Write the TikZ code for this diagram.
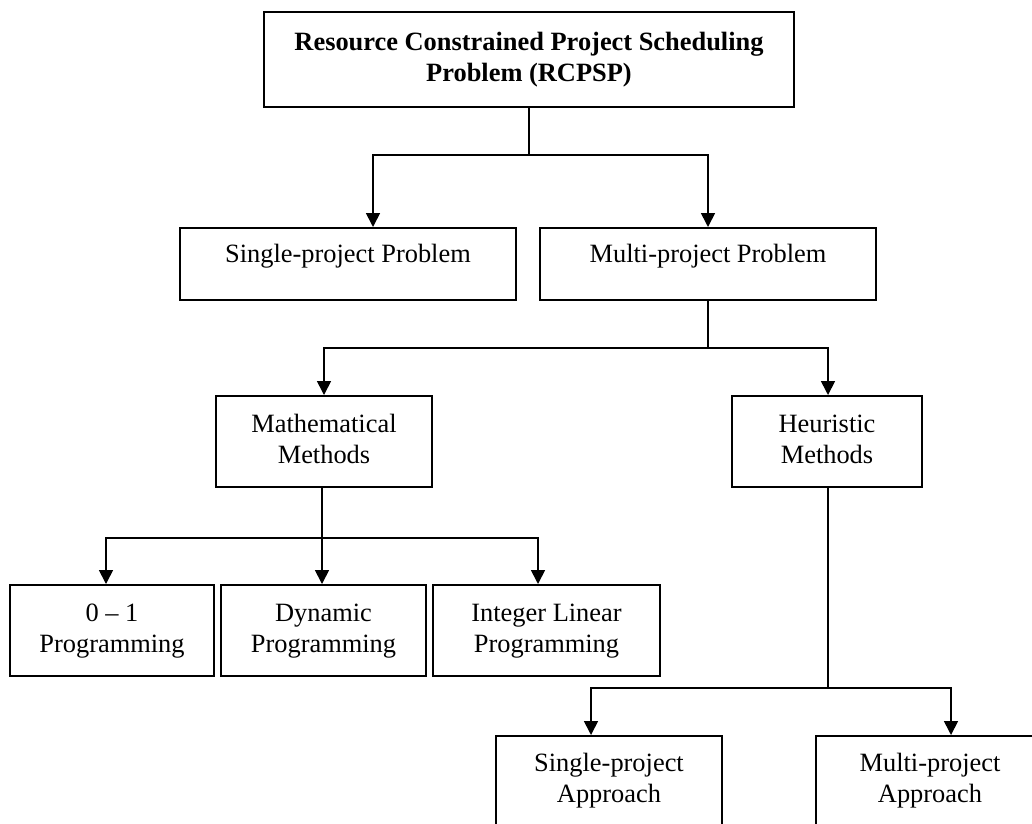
\documentclass[tikz,border=0pt]{standalone}
\usepackage{fontspec}
\setmainfont{Liberation Serif}
\usetikzlibrary{arrows.meta}
\begin{document}
\begin{tikzpicture}[x=1pt,y=-1pt,
  box/.style={draw, line width=2pt, inner sep=0pt},
  txt/.style={inner sep=0pt, anchor=base, font=\fontsize{26.4}{31}\selectfont},
  conn/.style={line width=1.7pt},
  arr/.style={line width=1.7pt, -{Triangle[width=14pt,length=14pt]}}
]
\useasboundingbox (0,0) rectangle (1032,823);
\clip (0,0) rectangle (1032,823);
\fill[white] (0,0) rectangle (1032,823);

% boxes
\node[box, minimum width=530pt, minimum height=95pt] (top) at (529,59.5) {};
\node[box, minimum width=336pt, minimum height=72pt] (sp) at (348,264) {};
\node[box, minimum width=336pt, minimum height=72pt] (mp) at (708,264) {};
\node[box, minimum width=216pt, minimum height=91pt] (math) at (324,441.5) {};
\node[box, minimum width=190pt, minimum height=91pt] (heur) at (827,441.5) {};
\node[box, minimum width=204pt, minimum height=91pt] (zo) at (112,630.5) {};
\node[box, minimum width=205pt, minimum height=91pt] (dyn) at (323.5,630.5) {};
\node[box, minimum width=227pt, minimum height=91pt] (ilp) at (546.5,630.5) {};
\node[box, minimum width=226pt, minimum height=130pt] (spa) at (609,801) {};
\node[box, minimum width=228pt, minimum height=130pt] (mpa) at (930,801) {};

% texts
\node[txt, font=\fontsize{26.4}{31}\selectfont\bfseries] (topT) at (529,50)
  {\begin{tabular}[t]{@{}c@{}}Resource Constrained Project Scheduling\\Problem (RCPSP)\end{tabular}};
\node[txt] (spT) at (348,262) {Single-project Problem};
\node[txt] (mpT) at (708,262) {Multi-project Problem};
\node[txt] (mathT) at (324,432) {\begin{tabular}[t]{@{}c@{}}Mathematical\\Methods\end{tabular}};
\node[txt] (heurT) at (827,432) {\begin{tabular}[t]{@{}c@{}}Heuristic\\Methods\end{tabular}};
\node[txt] (zoT) at (112,621) {\begin{tabular}[t]{@{}c@{}}0 – 1\\Programming\end{tabular}};
\node[txt] (dynT) at (323.5,621) {\begin{tabular}[t]{@{}c@{}}Dynamic\\Programming\end{tabular}};
\node[txt] (ilpT) at (546.5,621) {\begin{tabular}[t]{@{}c@{}}Integer Linear\\Programming\end{tabular}};
\node[txt] (spaT) at (609,771) {\begin{tabular}[t]{@{}c@{}}Single-project\\Approach\end{tabular}};
\node[txt] (mpaT) at (930,771) {\begin{tabular}[t]{@{}c@{}}Multi-project\\Approach\end{tabular}};

% junctions
\coordinate (j1) at (529,155);
\coordinate (j2) at (708,348);
\coordinate (j3) at (322,538);
\coordinate (j4) at (828,688);

% connectors
\draw[conn] (top.south) -- (j1);
\draw[arr] (j1) -| ([xshift=25pt]sp.north);
\draw[arr] (j1) -| (mp.north);

\draw[conn] (mp.south) -- (j2);
\draw[arr] (j2) -| (math.north);
\draw[arr] (j2) -| ([xshift=1pt]heur.north);

\draw[arr] ([xshift=-2pt]math.south) -- ([xshift=-1.5pt]dyn.north);
\draw[arr] (j3) -| ([xshift=-6pt]zo.north);
\draw[arr] (j3) -| ([xshift=-8.5pt]ilp.north);

\draw[conn] ([xshift=1pt]heur.south) -- (j4);
\draw[arr] (j4) -| ([xshift=-18pt]spa.north);
\draw[arr] (j4) -| ([xshift=21pt]mpa.north);
\end{tikzpicture}
\end{document}
